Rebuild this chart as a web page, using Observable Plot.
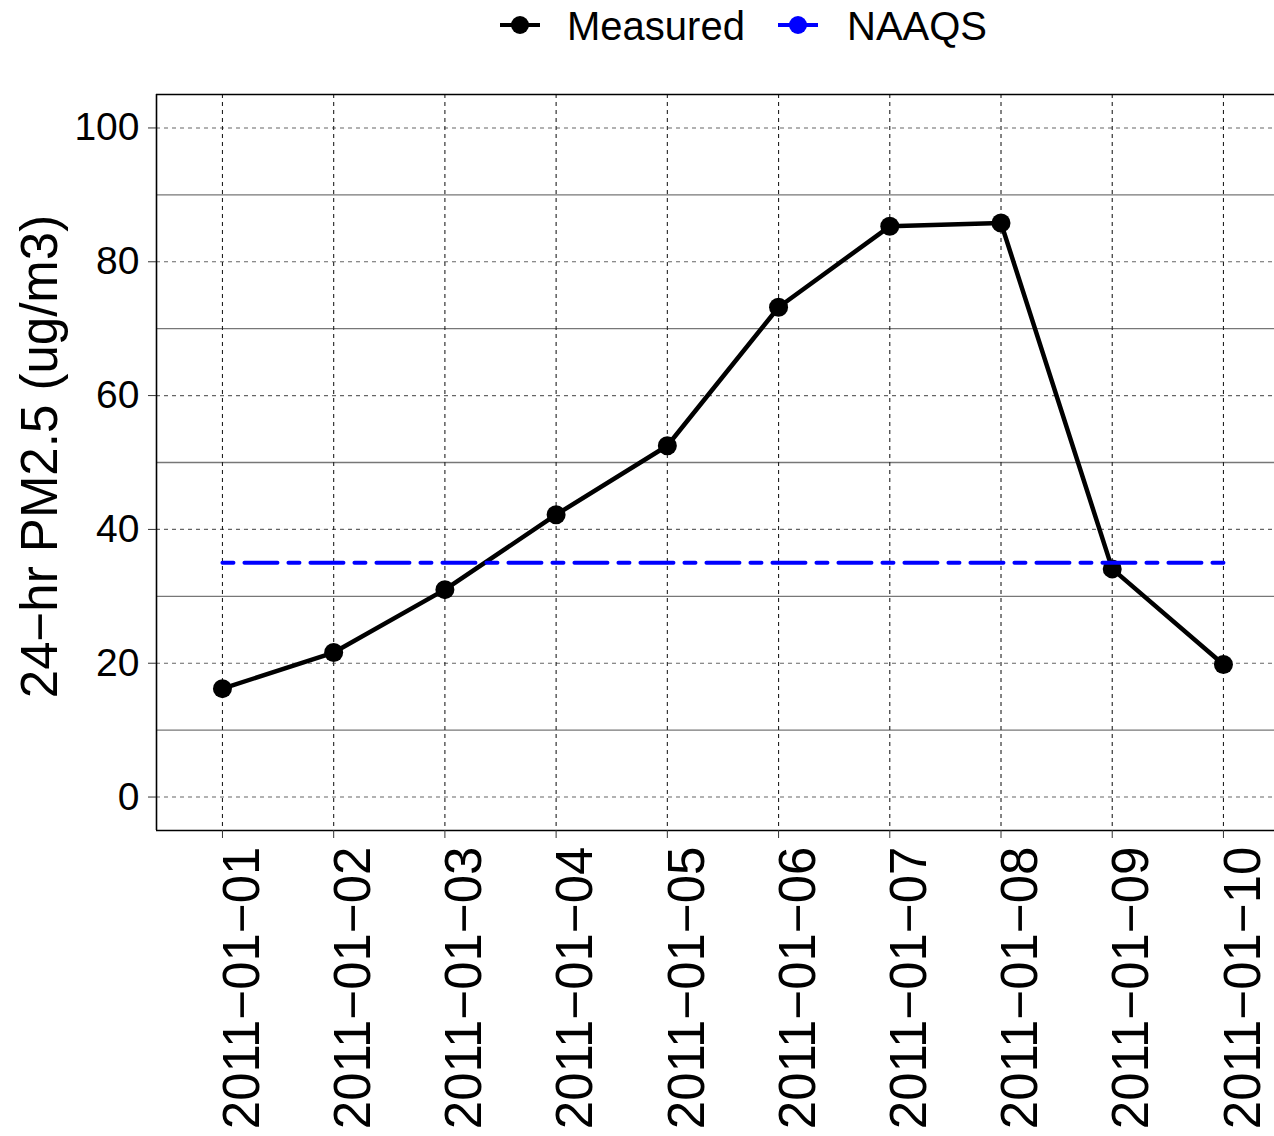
<!DOCTYPE html>
<html>
<head>
<meta charset="utf-8">
<script src="https://cdn.jsdelivr.net/npm/d3@7"></script>
<script src="https://cdn.jsdelivr.net/npm/@observablehq/plot@0.6"></script>
<style>
  html, body { margin: 0; padding: 0; background: #fff; }
  body { width: 1274px; height: 1136px; overflow: hidden; font-family: "Liberation Sans", Arial, Helvetica, sans-serif; }
  #legend { position: relative; height: 52px; width: 1274px; }
  #legend .key { position: absolute; top: 0; }
  #legend .lab { position: absolute; top: 0; font-size: 40px; line-height: 52px; color: #000; white-space: nowrap; }
  #chart svg { display: block; }
</style>
</head>
<body>
<div id="legend"></div>
<div id="chart"></div>
<script>
// ---- data ----
const dates = ["2011-01-01","2011-01-02","2011-01-03","2011-01-04","2011-01-05",
               "2011-01-06","2011-01-07","2011-01-08","2011-01-09","2011-01-10"];
const measured = [16.2, 21.6, 31.0, 42.2, 52.5, 73.2, 85.3, 85.8, 34.1, 19.8];
const naaqsValue = 35;
const seriesNames = ["Measured", "NAAQS"];
const seriesColors = ["#000000", "#0000FF"];
const yMajorTicks = [0, 20, 40, 60, 80, 100];
const yMinorTicks = [10, 30, 50, 70, 90];
const yTitle = "24\u2212hr PM2.5 (ug/m3)";

// ---- build table ----
const parse = d3.utcParse("%Y-%m-%d");
const dateObjs = dates.map(parse);
const measuredRows = dates.map((d, i) => ({date: dateObjs[i], value: measured[i]}));
const naaqsRows = dates.map((d, i) => ({date: dateObjs[i], value: naaqsValue}));
const fmtLabel = d => d3.utcFormat("%Y-%m-%d")(d).replace(/-/g, "\u2212");

const DAY = 864e5;
const xDomain = [new Date(+dateObjs[0] - 0.593 * DAY), new Date(+dateObjs[dateObjs.length - 1] + 0.459 * DAY)];
const yDomain = [-5, 105];

// ---- legend ----
const legend = document.getElementById("legend");
const legendLayout = [{keyX: 500, labX: 567}, {keyX: 778, labX: 847}];
seriesNames.forEach((name, i) => {
  const c = seriesColors[i];
  const key = document.createElement("div");
  key.className = "key";
  key.style.left = legendLayout[i].keyX + "px";
  key.innerHTML = `<svg width="40" height="52"><line x1="0" x2="40" y1="25" y2="25" stroke="${c}" stroke-width="4"/><circle cx="20" cy="25" r="9" fill="${c}"/></svg>`;
  legend.appendChild(key);
  const lab = document.createElement("div");
  lab.className = "lab";
  lab.style.left = legendLayout[i].labX + "px";
  lab.textContent = name;
  legend.appendChild(lab);
});

// ---- chart ----
const chart = Plot.plot({
  width: 1274,
  height: 1084,
  marginTop: 42,
  marginBottom: 306,
  marginLeft: 156,
  marginRight: 0,
  style: {fontFamily: '"Liberation Sans", Arial, Helvetica, sans-serif', background: "#fff", color: "#000", overflow: "visible"},
  x: {type: "utc", domain: xDomain},
  y: {domain: yDomain},
  marks: [
    // grid
    Plot.ruleY(yMinorTicks, {stroke: "#777", strokeWidth: 1.3}),
    Plot.ruleY(yMajorTicks, {stroke: "#666", strokeWidth: 1.1, strokeDasharray: "4,4"}),
    Plot.ruleX(dateObjs, {stroke: "#222", strokeWidth: 1.1, strokeDasharray: "4,4"}),
    // panel borders (top, bottom, left)
    Plot.ruleY([yDomain[0], yDomain[1]], {stroke: "#000", strokeWidth: 1.6}),
    Plot.ruleX([xDomain[0]], {stroke: "#000", strokeWidth: 1.6}),
    // axes
    Plot.axisY({ticks: yMajorTicks, tickSize: 8, tickPadding: 9, fontSize: 39, label: null, stroke: "#333", fill: "#000"}),
    Plot.axisX({ticks: dateObjs, tickSize: 8, tickFormat: () => "", label: null, stroke: "#333"}),
    Plot.text(dateObjs, {x: d => d, y: yDomain[0], text: fmtLabel, rotate: -90, textAnchor: "end", lineAnchor: "top", dy: 16, fontSize: 51, fill: "#000"}),
    Plot.text([yTitle], {frameAnchor: "left", text: d => d, rotate: -90, textAnchor: "middle", lineAnchor: "top", dx: -136, dy: -6, fontSize: 51, fill: "#000"}),
    // data
    Plot.line(measuredRows, {x: "date", y: "value", stroke: seriesColors[0], strokeWidth: 4.5, strokeLinejoin: "round"}),
    Plot.dot(measuredRows, {x: "date", y: "value", r: 9.5, fill: seriesColors[0], stroke: "none"}),
    Plot.line(naaqsRows, {x: "date", y: "value", stroke: seriesColors[1], strokeWidth: 4, strokeDasharray: "11,11,33,11"})
  ]
});
document.getElementById("chart").appendChild(chart);
</script>
</body>
</html>
